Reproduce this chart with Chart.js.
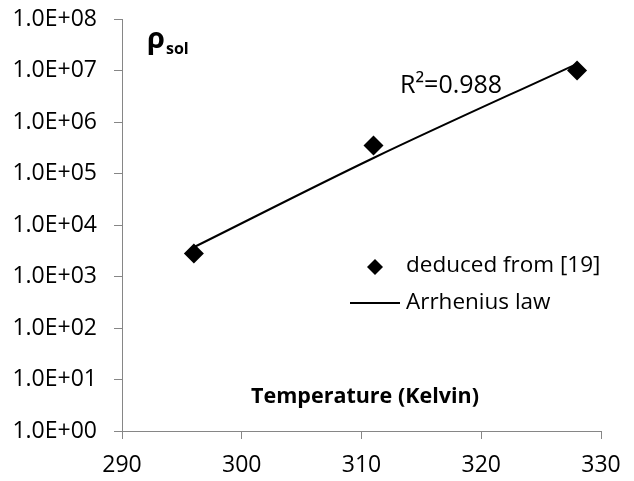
<!DOCTYPE html>
<html><head><meta charset="utf-8">
<script src="https://cdn.jsdelivr.net/npm/chart.js@4"></script>
<style>html,body{margin:0;padding:0;background:#fff;}#wrap{width:634px;height:481px;}</style>
</head><body><div id="wrap"><canvas id="c" width="634" height="481"></canvas></div>
<script>
const temps = [296, 311, 328];
const rhoValues = [2.8e3, 3.5e5, 1.0e7];
const fitTemps = [296, 311, 328];
const fitValues = [3.7e3, 2.0e5, 1.35e7];
const yTickValues = [1e0, 1e1, 1e2, 1e3, 1e4, 1e5, 1e6, 1e7, 1e8];
const xTickValues = [290, 300, 310, 320, 330];
const seriesNames = ['deduced from [19]', 'Arrhenius law'];
const xTitle = 'Temperature (Kelvin)';
const r2Label = 'R²=0.988';

const FONT = "'Open Sans', sans-serif";
function fmtE(v){
  const e = Math.round(Math.log10(v));
  return '1.0E+' + (e < 10 ? '0' + e : e);
}

const overlay = {
  id: 'overlay',
  afterDraw(chart){
    const ctx = chart.ctx;
    ctx.save();
    ctx.fillStyle = '#000';
    ctx.strokeStyle = '#000';
    // rho_sol
    ctx.textBaseline = 'alphabetic';
    ctx.textAlign = 'left';
    ctx.font = "bold 29px " + FONT;
    ctx.fillText('ρ', 147, 48);
    const w = ctx.measureText('ρ').width;
    ctx.font = "bold 16px " + FONT;
    ctx.fillText('sol', 147 + w + 1, 54);
    // R2
    ctx.font = "25px " + FONT;
    ctx.textBaseline = 'middle';
    ctx.fillText(r2Label, 400, 86);
    // x title
    ctx.font = "bold 21.5px " + FONT;
    ctx.textAlign = 'center';
    ctx.fillText(xTitle, 365, 397);
    // legend
    ctx.textAlign = 'left';
    ctx.font = "22.5px " + FONT;
    ctx.beginPath();
    const lx = 375, ly = 267, r = 8;
    ctx.moveTo(lx - r, ly); ctx.lineTo(lx, ly - r); ctx.lineTo(lx + r, ly); ctx.lineTo(lx, ly + r); ctx.closePath();
    ctx.fill();
    ctx.fillText(seriesNames[0], 406, 266);
    ctx.lineWidth = 2;
    ctx.beginPath(); ctx.moveTo(350, 303); ctx.lineTo(400, 303); ctx.stroke();
    ctx.fillText(seriesNames[1], 406, 303);
    ctx.restore();
  }
};

new Chart(document.getElementById('c'), {
  type: 'scatter',
  data: {
    datasets: [
      {
        label: seriesNames[0],
        data: temps.map((t, i) => ({x: t, y: rhoValues[i]})),
        pointStyle: 'rectRot',
        pointRadius: 10,
        backgroundColor: '#000',
        borderColor: '#000',
        borderWidth: 0,
        order: 1
      },
      {
        label: seriesNames[1],
        data: fitTemps.map((t, i) => ({x: t, y: fitValues[i]})),
        showLine: true,
        pointRadius: 0,
        borderColor: '#000',
        borderWidth: 2,
        tension: 0.4,
        cubicInterpolationMode: 'monotone',
        order: 2
      }
    ]
  },
  options: {
    responsive: false,
    animation: false,
    devicePixelRatio: 1,
    layout: {padding: {left: 0, right: 33, top: 19, bottom: 0}},
    plugins: {legend: {display: false}, tooltip: {enabled: false}},
    scales: {
      x: {
        type: 'linear', min: 290, max: 330,
        afterBuildTicks: s => { s.ticks = xTickValues.map(v => ({value: v})); },
        afterFit: s => { s.height = 50; s.paddingLeft = 0; s.paddingRight = 0; },
        ticks: {color: '#000', font: {family: FONT, size: 23}, padding: 13, maxRotation: 0, callback: v => String(v)},
        grid: {display: true, drawOnChartArea: false, drawTicks: true, tickLength: 8, color: '#868686', lineWidth: 1},
        border: {display: true, color: '#868686', width: 1}
      },
      y: {
        type: 'logarithmic', min: 1, max: 1e8,
        afterBuildTicks: s => { s.ticks = yTickValues.map(v => ({value: v})); },
        afterFit: s => { s.width = 122; s.paddingTop = 0; s.paddingBottom = 0; },
        ticks: {color: '#000', font: {family: FONT, size: 23}, padding: 17, callback: v => fmtE(v)},
        grid: {display: true, drawOnChartArea: false, drawTicks: true, tickLength: 8, color: '#868686', lineWidth: 1},
        border: {display: true, color: '#868686', width: 1}
      }
    }
  },
  plugins: [overlay]
});
</script></body></html>
